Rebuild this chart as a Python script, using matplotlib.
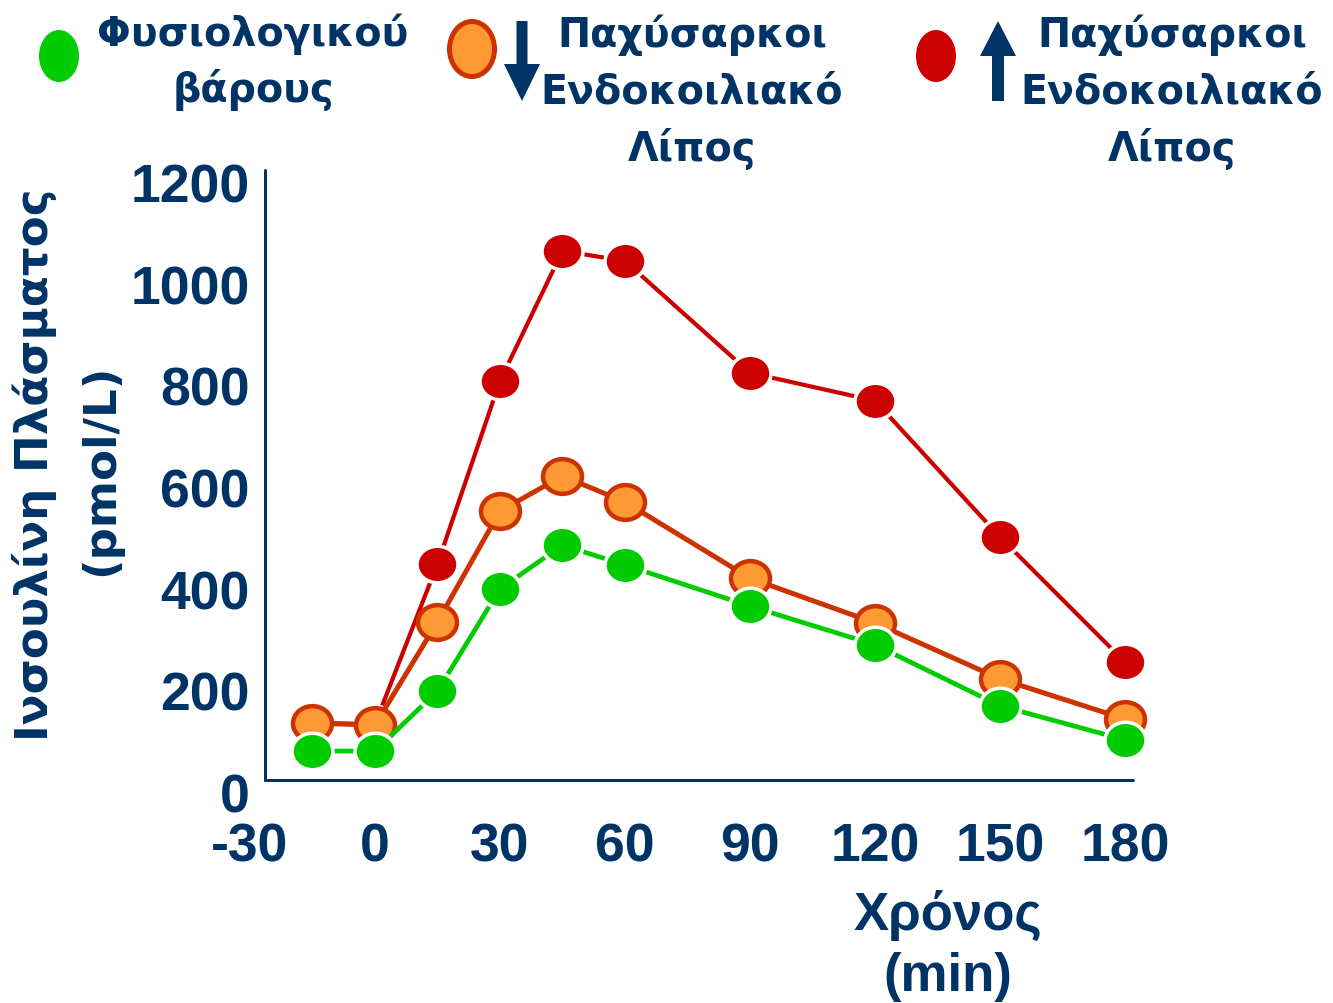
import matplotlib
matplotlib.use("Agg")
import matplotlib.pyplot as plt
from matplotlib.path import Path
from matplotlib.markers import MarkerStyle
from matplotlib.transforms import Affine2D, ScaledTranslation
from matplotlib.patches import Ellipse, FancyArrow

# Sampling times (min) of the oral glucose tolerance test
time_min = [-15, 0, 15, 30, 45, 60, 90, 120, 150, 180]

# Plasma insulin (pmol/L) per group
insulin_normal = [57, 57, 175, 376, 462, 423, 342, 266, 146, 79]
insulin_obese_low_vat = [112, 108, 311, 529, 598, 547, 397, 309, 199, 120]
insulin_obese_high_vat = [112, 110, 425, 785, 1041, 1021, 801, 746, 478, 232]

x_ticks = [-30, 0, 30, 60, 90, 120, 150, 180]
y_ticks = [0, 200, 400, 600, 800, 1000, 1200]

legend_normal = ["Φυσιολογικού", "βάρους"]
legend_obese = ["Παχύσαρκοι", "Ενδοκοιλιακό", "Λίπος"]
y_label_lines = ["Ινσουλίνη Πλάσματος", "(pmol/L)"]
x_label_lines = ["Χρόνος", "(min)"]

NAVY = "#003366"
GREEN = "#00CC00"
RED = "#CC0000"
ORANGE_FILL = "#FF9933"
ORANGE_EDGE = "#CC3300"

ARIAL = ["Liberation Sans", "DejaVu Sans"]
WIDE = ["DejaVu Sans"]

W, H, DPI = 1333, 1004, 100
PX = 72 / DPI  # points per pixel

fig = plt.figure(figsize=(W / DPI, H / DPI), dpi=DPI)


def fig_rect(left, top, right, bottom):
    return [left / W, 1 - bottom / H, (right - left) / W, (bottom - top) / H]


# Full-figure layer in pixel units for legend and axis titles
lay = fig.add_axes([0, 0, 1, 1])
lay.set_xlim(0, W)
lay.set_ylim(H, 0)
lay.axis("off")

ax = fig.add_axes(fig_rect(250, 171, 1133.3, 781))
ax.set_xlim(-30, 182)
ax.set_ylim(0, 1200)
ax.patch.set_alpha(0)

# Slightly flattened round marker
ellipse = Path.unit_circle().transformed(Affine2D().scale(1.0, 0.89))
marker = MarkerStyle(ellipse)

ax.plot(time_min, insulin_obese_high_vat, color=RED, lw=4.2 * PX,
        marker=marker, ms=41 * PX, mfc=RED, mec="white", mew=3.5 * PX,
        zorder=3, clip_on=False)
ax.plot(time_min, insulin_obese_low_vat, color=ORANGE_EDGE, lw=5 * PX,
        marker=marker, ms=39 * PX, mfc=ORANGE_FILL, mec=ORANGE_EDGE,
        mew=4.5 * PX, zorder=4, clip_on=False)
ax.plot(time_min, insulin_normal, color=GREEN, lw=4.7 * PX,
        marker=marker, ms=41 * PX, mfc=GREEN, mec="white", mew=3.5 * PX,
        zorder=5, clip_on=False)

# Axes frame
for side in ("top", "right"):
    ax.spines[side].set_visible(False)
ax.spines["left"].set_position(("data", -26.4))
ax.spines["left"].set_bounds(0, 1200)
ax.spines["bottom"].set_bounds(-26.4, 182)
for side in ("left", "bottom"):
    ax.spines[side].set_color(NAVY)
    ax.spines[side].set_linewidth(3 * PX)
    ax.spines[side].set_capstyle("round")

ax.set_xticks(x_ticks)
ax.set_xticklabels([str(v) for v in x_ticks])
ax.set_yticks(y_ticks)
ax.set_yticklabels([str(v) for v in y_ticks])
ax.tick_params(length=0, labelcolor=NAVY)
ax.tick_params(axis="x", pad=30)
ax.tick_params(axis="y", pad=11)
for lab in ax.get_xticklabels() + ax.get_yticklabels():
    lab.set_fontfamily(ARIAL)
    lab.set_fontweight("bold")
    lab.set_fontsize(38.5)
shift_down = ScaledTranslation(0, -0.12, fig.dpi_scale_trans)
for lab in ax.get_yticklabels():
    lab.set_transform(lab.get_transform() + shift_down)

# Axis titles
ytxt = dict(rotation=90, rotation_mode="anchor", ha="center", va="baseline",
            fontsize=32.5, fontweight="bold", family=WIDE, color=NAVY)
lay.text(48, 465, y_label_lines[0], **ytxt)
lay.text(113, 470, y_label_lines[1], **ytxt)

xtxt = dict(ha="center", va="baseline", fontsize=38, fontweight="bold",
            family=ARIAL, color=NAVY)
lay.text(948, 930, x_label_lines[0], **xtxt)
lay.text(948, 991, x_label_lines[1], **xtxt)

# Legend
ltxt = dict(ha="center", va="baseline", fontsize=28.5, fontweight="bold",
            family=WIDE, color=NAVY)

lay.add_patch(Ellipse((59, 57), 40, 52, facecolor=GREEN, lw=0))
for text, base in zip(legend_normal, [46, 102]):
    lay.text(253, base, text, **ltxt)

lay.add_patch(Ellipse((472, 50), 45, 55, facecolor=ORANGE_FILL,
                      edgecolor=ORANGE_EDGE, lw=5 * PX))
lay.add_patch(FancyArrow(522, 22, 0, 80, width=11, head_width=36,
                         head_length=37, length_includes_head=True,
                         color=NAVY, lw=0))
for text, base in zip(legend_obese, [47, 104, 161]):
    lay.text(692, base, text, **ltxt)

lay.add_patch(Ellipse((936, 57), 40, 52, facecolor=RED, lw=0))
lay.add_patch(FancyArrow(998, 102, 0, -80, width=12, head_width=36,
                         head_length=35, length_includes_head=True,
                         color=NAVY, lw=0))
for text, base in zip(legend_obese, [47, 104, 161]):
    lay.text(1172, base, text, **ltxt)

fig.savefig("out.png", dpi=DPI)
